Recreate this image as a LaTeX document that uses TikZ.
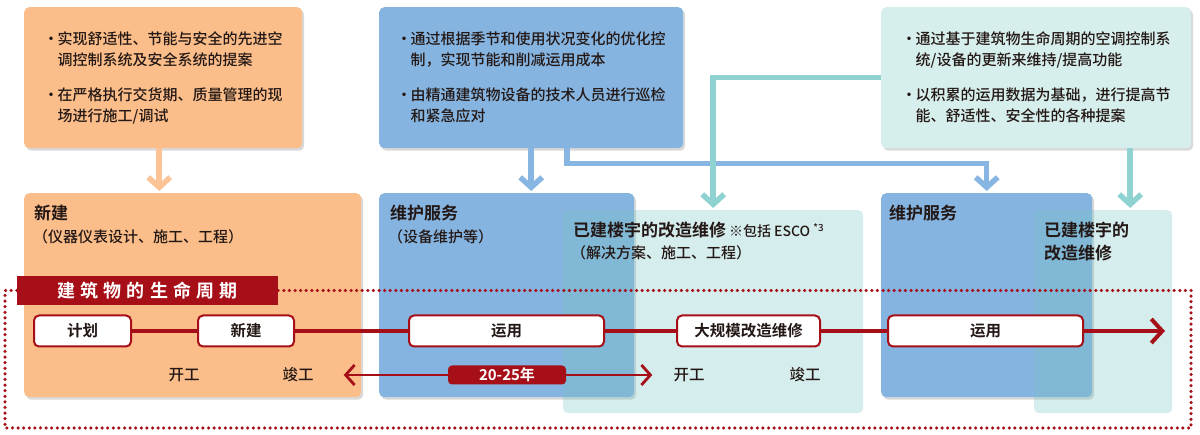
\documentclass[tikz,border=0pt]{standalone}
\usepackage{fontspec}
\setmainfont{Noto Sans CJK SC Medium}[BoldFont={Noto Sans CJK SC Bold}]
\usetikzlibrary{positioning, arrows.meta, shadows}

\definecolor{neworange}{RGB}{251,190,138}
\definecolor{orangeline}{RGB}{252,196,150}
\definecolor{maintblue}{RGB}{134,180,224}
\definecolor{blueline}{RGB}{136,182,226}
\definecolor{renoteal}{RGB}{214,238,236}
\definecolor{renoglass}{RGB}{115,195,192}
\definecolor{tealline}{RGB}{142,211,209}
\definecolor{lifered}{RGB}{166,15,23}
\definecolor{textdark}{RGB}{35,24,21}

\newcommand\bul[2]{\makebox[14pt][l]{・}#1\\\hspace*{14pt}#2}

\begin{document}
\begin{tikzpicture}[x=1pt, y=-1pt,
        every node/.style={text=textdark},
        box/.style={rectangle, rounded corners=5pt, anchor=north west, inner sep=0pt, drop shadow={shadow xshift=2pt, shadow yshift=-2.5pt, opacity=.3}},
        topbox/.style={box, align=left, font=\fontsize{15}{21}\selectfont},
        glassbox/.style={rectangle, rounded corners=5pt, anchor=north west, inner sep=0pt, fill=renoglass, fill opacity=.3},
        title/.style={anchor=west, inner sep=0pt, font=\fontsize{17}{23}\selectfont\bfseries, align=left},
        subtitle/.style={anchor=west, inner sep=0pt, font=\fontsize{15}{15}\selectfont},
        stage/.style={rectangle, rounded corners=5pt, draw=lifered, line width=2pt, fill=white, minimum height=31pt, inner sep=0pt, font=\fontsize{15.5}{15.5}\selectfont\bfseries},
        datelabel/.style={inner sep=0pt, font=\fontsize{15.5}{15.5}\selectfont},
        feed/.style={line width=5.5pt, -{Straight Barb[length=10pt, width=22pt]}, shorten >=2pt},
        lifeline/.style={draw=lifered, line width=4pt, -{Straight Barb[length=11pt, width=24pt]}},
        spanarrow/.style={draw=lifered, line width=2.8pt, {Straight Barb[length=9pt, width=20pt]}-{Straight Barb[length=9pt, width=20pt]}}
        ]
        \useasboundingbox (0,0) rectangle (1200,435);

        % proposals
        \node[topbox, fill=neworange, minimum width=278pt, minimum height=141pt] (newtop) at (24,7) {\bul{实现舒适性、节能与安全的先进空}{调控制系统及安全系统的提案}\\[14pt]\bul{在严格执行交货期、质量管理的现}{场进行施工/调试}};
        \node[topbox, fill=maintblue, minimum width=304pt, minimum height=141pt] (mainttop) at (379,7) {\bul{通过根据季节和使用状况变化的优化控}{制，实现节能和削减运用成本}\\[14pt]\bul{由精通建筑物设备的技术人员进行巡检}{和紧急应对}};
        \node[topbox, fill=renoteal, minimum width=310pt, minimum height=141pt] (renotop) at (881,7) {\bul{通过基于建筑物生命周期的空调控制系}{统/设备的更新来维持/提高功能}\\[14pt]\bul{以积累的运用数据为基础，进行提高节}{能、舒适性、安全性的各种提案}};

        % services
        \node[box, fill=neworange, minimum width=337pt, minimum height=204pt] (newlow) at (24,193) {};
        \node[box, fill=maintblue, minimum width=255pt, minimum height=204pt] (maintlow) at (379,193) {};
        \node[glassbox, minimum width=300pt, minimum height=203pt] (renolow) at (563,210) {};
        \node[box, fill=maintblue, minimum width=211pt, minimum height=204pt] (maintlow2) at (881,193) {};
        \node[glassbox, minimum width=138pt, minimum height=203pt] (renolow2) at (1034,210) {};

        \node[title] (newtitle) at ([xshift=10pt, yshift=-20pt]newlow.north west) {新建};
        \node[subtitle] (newsub) at ([xshift=9pt, yshift=-44pt]newlow.north west) {（仪器仪表设计、施工、工程）};
        \node[title] (mainttitle) at ([xshift=11pt, yshift=-20pt]maintlow.north west) {维护服务};
        \node[subtitle] (maintsub) at ([xshift=9pt, yshift=-44pt]maintlow.north west) {（设备维护等）};
        \node[title] (renotitle) at ([xshift=10pt, yshift=-20pt]renolow.north west) {已建楼宇的改造维修\,{\fontsize{14}{14}\selectfont\mdseries ※包括 ESCO \textsuperscript{*3}}};
        \node[subtitle] (renosub) at ([xshift=8pt, yshift=-43pt]renolow.north west) {（解决方案、施工、工程）};
        \node[title] (mainttitle2) at ([xshift=8pt, yshift=-20pt]maintlow2.north west) {维护服务};
        \node[title] (renotitle2) at ([xshift=10pt, yshift=-31.5pt]renolow2.north west) {已建楼宇的\\改造维修};

        % feeds
        \draw[feed, draw=orangeline] ([xshift=-4pt]newtop.south) -- ([xshift=-4pt]newtop.south |- newlow.north);
        \draw[feed, draw=blueline] (mainttop.south) -- (mainttop.south |- maintlow.north);
        \draw[feed, draw=blueline] ([xshift=36pt]mainttop.south) -- ++(0,15) -| (maintlow2.north);
        \draw[feed, draw=tealline] (renotop.west) -| (renolow.north);
        \draw[feed, draw=tealline] ([xshift=94pt]renotop.south) -- ([xshift=94pt]renotop.south |- renolow2.north);

        % life cycle
        \node[rectangle, fill=lifered, minimum width=261pt, minimum height=29pt, inner sep=0pt, text=white, font=\fontsize{18}{18}\selectfont\bfseries\addfontfeature{LetterSpace=28}] (lifecycle) at (147.5,290.5) {建筑物的生命周期};
        \draw[draw=lifered, line width=3.5pt, dash pattern=on 0pt off 5.6pt, line cap=round] (lifecycle.east) -- (1191,290.5) -- (1191,428) -- (5,428) -- (5,290.5) -- (lifecycle.west);

        \node[stage, minimum width=97pt] (plan) at (82.5,331) {计划};
        \node[stage, minimum width=96pt] (build) at (246,331) {新建};
        \node[stage, minimum width=195pt] (operate) at (506.5,331) {运用};
        \node[stage, minimum width=143pt] (overhaul) at (748.5,331) {大规模改造维修};
        \node[stage, minimum width=195pt] (operate2) at (985.5,331) {运用};
        \coordinate (lifeend) at (1165,331);
        \draw[lifeline] (plan) -- (build) -- (operate) -- (overhaul) -- (operate2) -- (lifeend);

        \node[datelabel] (start1) at (184,375) {开工};
        \node[datelabel] (done1) at (298,375) {竣工};
        \node[datelabel] (start2) at (689,375) {开工};
        \node[datelabel] (done2) at (805,375) {竣工};
        \draw[spanarrow, shorten <=30pt, shorten >=21pt] (done1) -- (start2);
        \node[rectangle, rounded corners=4pt, fill=lifered, minimum width=118pt, minimum height=19pt, inner sep=0pt, text=white, font=\fontsize{15}{15}\selectfont\bfseries] (span) at (507,375) {20-25年};
    \end{tikzpicture}
\end{document}
